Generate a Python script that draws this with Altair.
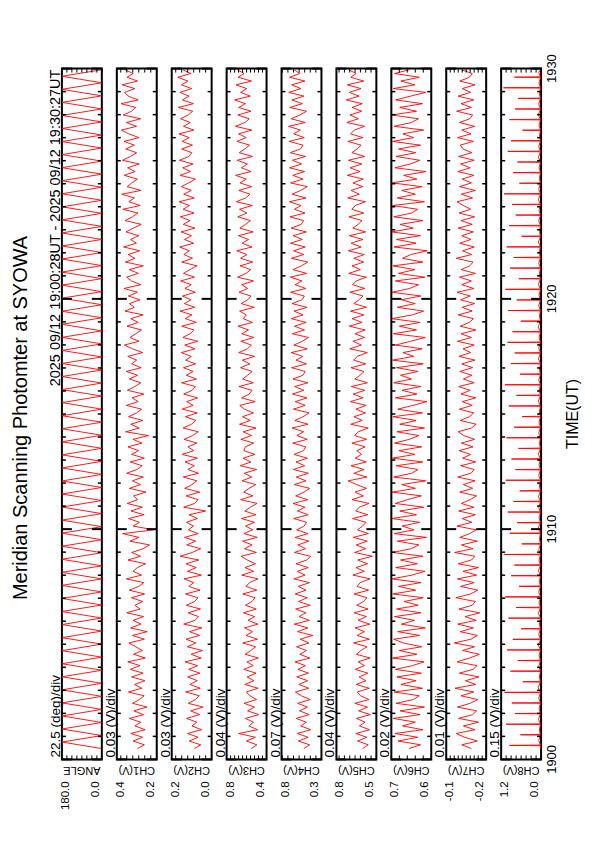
import altair as alt
import pandas as pd
import numpy as np

FONT = "Liberation Sans"
T0, T1 = 0.47, 29.95   # minutes after 19:00 (19:00:28UT - 19:30:27UT)

PANEL_NAMES = ["ANGLE", "CH1(V)", "CH2(V)", "CH3(V)", "CH4(V)", "CH5(V)", "CH6(V)", "CH7(V)", "CH8(V)"]
LO = [0.0, 0.2, 0.0, 0.4, 0.3, 0.5, 0.6, -0.2, 0.0]
HI = [180.0, 0.4, 0.2, 0.8, 0.8, 0.8, 0.7, -0.1, 1.2]
DIV = [22.5, 0.03, 0.03, 0.04, 0.07, 0.04, 0.02, 0.01, 0.15]
DIV_LABELS = ["22.5 (deg)/div", "0.03 (V)/div", "0.03 (V)/div", "0.04 (V)/div", "0.07 (V)/div",
              "0.04 (V)/div", "0.02 (V)/div", "0.01 (V)/div", "0.15 (V)/div"]
HI_LABELS = ["180.0", "0.4", "0.2", "0.8", "0.8", "0.8", "0.7", "-0.1", "1.2"]
LO_LABELS = ["0.0", "0.2", "0.0", "0.4", "0.3", "0.5", "0.6", "-0.2", "0.0"]
TIME_TICKS = [0, 10, 20, 30]
TIME_LABELS = ["1900", "1910", "1920", "1930"]
TITLE = "Meridian Scanning Photomter at SYOWA"
SUBTITLE = "2025 09/12 19:00:28UT - 2025 09/12 19:30:27UT"
XTITLE = "TIME(UT)"

ANGLE_TURNS = [
    0, 180, 0, 180, 0, 180, 0, 180, 0, 180, 0, 180, 0, 180, 0, 180,
    0, 180, 0, 180, 0, 180, 0, 180, 0, 180, 0, 180, 0, 180, 0, 180,
    0, 180, 0, 180, 0, 180, 0, 180, 0, 180, 0, 180, 0, 180, 0, 180,
    0, 180, 0, 180, 0, 180, 0, 180, 0, 180, 0, 180, 0, 180, 0, 180,
    0, 180, 0, 180, 0, 180, 0, 180, 0, 180, 0, 180, 0, 180, 0, 180,
    0, 180, 0, 180, 0, 180, 0, 180, 0, 180, 0, 180, 0, 180, 0, 180,
    0, 180, 0, 180, 0, 180, 0, 180, 0,
]

CH1 = [
    0.296, 0.262, 0.318, 0.271, 0.330, 0.258, 0.309, 0.280, 0.337, 0.266, 0.314, 0.249, 0.321, 0.287, 0.263, 0.342, 0.275, 0.311, 0.259, 0.326,
    0.268, 0.333, 0.284, 0.345, 0.257, 0.316, 0.272, 0.305, 0.339, 0.262, 0.322, 0.248, 0.331, 0.279, 0.318, 0.266, 0.350, 0.283, 0.309, 0.270,
    0.327, 0.261, 0.338, 0.290, 0.265, 0.352, 0.276, 0.319, 0.297, 0.255, 0.344, 0.281, 0.325, 0.268, 0.236, 0.334, 0.289, 0.371, 0.215, 0.318,
    0.287, 0.341, 0.263, 0.329, 0.272, 0.348, 0.295, 0.316, 0.254, 0.337, 0.281, 0.322, 0.267, 0.351, 0.299, 0.273, 0.333, 0.262, 0.326, 0.291,
    0.344, 0.274, 0.319, 0.241, 0.356, 0.288, 0.330, 0.269, 0.341, 0.301, 0.276, 0.352, 0.293, 0.323, 0.265, 0.347, 0.310, 0.280, 0.337, 0.296,
    0.353, 0.278, 0.326, 0.301, 0.345, 0.270, 0.321, 0.362, 0.289, 0.334, 0.305, 0.276, 0.349, 0.293, 0.330, 0.268, 0.359, 0.312, 0.337, 0.284,
    0.342, 0.296, 0.364, 0.280, 0.327, 0.351, 0.292, 0.338, 0.267, 0.357, 0.309, 0.343, 0.285, 0.366, 0.302, 0.331, 0.290, 0.354, 0.318, 0.277,
    0.359, 0.321, 0.294, 0.370, 0.283, 0.340, 0.312, 0.375, 0.279, 0.348, 0.325, 0.297, 0.363, 0.308, 0.346, 0.288, 0.372, 0.331, 0.301, 0.355,
    0.312, 0.364, 0.289, 0.340, 0.377, 0.301, 0.352, 0.281, 0.368, 0.326, 0.305, 0.379, 0.293, 0.343, 0.361, 0.310, 0.373, 0.296, 0.349, 0.318, 0.360,
]
CH2 = [
    0.087, 0.055, 0.112, 0.068, 0.121, 0.050, 0.098, 0.074, 0.126, 0.060, 0.105, 0.043, 0.117, 0.081, 0.062, 0.130, 0.057, 0.109, 0.072, 0.120,
    0.059, 0.115, 0.070, 0.134, 0.052, 0.103, 0.046, 0.122, 0.079, 0.128, 0.061, 0.111, 0.049, 0.140, 0.083, 0.066, 0.118, 0.056, 0.127, 0.085,
    0.069, 0.131, 0.058, 0.114, 0.090, 0.138, 0.051, 0.121, 0.077, 0.129, 0.064, 0.158, 0.097, 0.055, 0.125, 0.080, 0.136, 0.067, 0.117, 0.091,
    0.126, 0.071, 0.113, 0.030, 0.140, 0.085, 0.068, 0.128, 0.060, 0.135, 0.098, 0.074, 0.142, 0.066, 0.119, 0.087, 0.133, 0.071, 0.148, 0.089,
    0.119, 0.074, 0.138, 0.095, 0.067, 0.143, 0.101, 0.079, 0.131, 0.072, 0.147, 0.093, 0.125, 0.070, 0.140, 0.098, 0.081, 0.151, 0.076, 0.127,
    0.093, 0.141, 0.080, 0.130, 0.102, 0.152, 0.083, 0.135, 0.069, 0.144, 0.108, 0.089, 0.150, 0.077, 0.132, 0.099, 0.158, 0.085, 0.137, 0.104,
    0.146, 0.082, 0.134, 0.103, 0.155, 0.086, 0.141, 0.109, 0.073, 0.150, 0.096, 0.139, 0.112, 0.160, 0.090, 0.136, 0.101, 0.153, 0.084, 0.142,
    0.108, 0.157, 0.088, 0.143, 0.111, 0.163, 0.087, 0.140, 0.102, 0.152, 0.115, 0.081, 0.158, 0.106, 0.145, 0.093, 0.161, 0.114, 0.099, 0.150,
    0.096, 0.148, 0.112, 0.164, 0.089, 0.141, 0.107, 0.156, 0.118, 0.095, 0.167, 0.091, 0.146, 0.113, 0.159, 0.100, 0.151, 0.119, 0.170, 0.104, 0.145,
]
CH3 = [
    0.553, 0.497, 0.601, 0.512, 0.680, 0.489, 0.578, 0.530, 0.612, 0.478, 0.590, 0.521, 0.625, 0.500, 0.567, 0.603, 0.484, 0.618, 0.526, 0.594,
    0.505, 0.628, 0.534, 0.597, 0.482, 0.614, 0.558, 0.509, 0.639, 0.491, 0.605, 0.540, 0.621, 0.487, 0.586, 0.519, 0.632, 0.503, 0.610, 0.547,
    0.515, 0.638, 0.498, 0.606, 0.571, 0.486, 0.649, 0.529, 0.617, 0.510, 0.593, 0.655, 0.502, 0.622, 0.545, 0.641, 0.493, 0.627, 0.538, 0.611,
    0.520, 0.652, 0.506, 0.618, 0.561, 0.495, 0.660, 0.537, 0.629, 0.575, 0.508, 0.646, 0.548, 0.624, 0.499, 0.664, 0.556, 0.635, 0.517, 0.628,
    0.612, 0.528, 0.657, 0.550, 0.636, 0.506, 0.671, 0.563, 0.641, 0.531, 0.622, 0.668, 0.514, 0.650, 0.573, 0.547, 0.677, 0.532, 0.639, 0.590,
    0.544, 0.661, 0.567, 0.643, 0.519, 0.679, 0.592, 0.553, 0.658, 0.527, 0.648, 0.581, 0.687, 0.541, 0.634, 0.602, 0.670, 0.523, 0.655, 0.588,
    0.556, 0.676, 0.590, 0.649, 0.530, 0.690, 0.604, 0.559, 0.665, 0.538, 0.660, 0.596, 0.698, 0.546, 0.645, 0.580, 0.683, 0.534, 0.668, 0.610,
    0.561, 0.688, 0.597, 0.671, 0.542, 0.702, 0.609, 0.566, 0.677, 0.549, 0.667, 0.603, 0.710, 0.555, 0.652, 0.592, 0.694, 0.540, 0.674, 0.617,
    0.569, 0.697, 0.604, 0.680, 0.548, 0.713, 0.615, 0.574, 0.688, 0.556, 0.679, 0.611, 0.721, 0.563, 0.660, 0.598, 0.706, 0.551, 0.685, 0.625, 0.693,
]
CH4 = [
    0.521, 0.448, 0.589, 0.467, 0.604, 0.433, 0.560, 0.490, 0.617, 0.452, 0.575, 0.476, 0.598, 0.440, 0.552, 0.626, 0.459, 0.583, 0.473, 0.609,
    0.462, 0.594, 0.501, 0.632, 0.445, 0.571, 0.487, 0.612, 0.456, 0.566, 0.410, 0.599, 0.470, 0.640, 0.451, 0.580, 0.495, 0.623, 0.441, 0.587,
    0.478, 0.629, 0.493, 0.591, 0.449, 0.646, 0.505, 0.603, 0.466, 0.619, 0.484, 0.437, 0.638, 0.500, 0.596, 0.458, 0.630, 0.470, 0.611, 0.517,
    0.486, 0.648, 0.465, 0.600, 0.508, 0.655, 0.472, 0.622, 0.519, 0.447, 0.641, 0.494, 0.615, 0.463, 0.652, 0.510, 0.618, 0.476, 0.644, 0.525,
    0.497, 0.660, 0.479, 0.608, 0.523, 0.667, 0.468, 0.633, 0.530, 0.455, 0.651, 0.503, 0.627, 0.481, 0.663, 0.520, 0.635, 0.470, 0.656, 0.532,
    0.505, 0.674, 0.488, 0.619, 0.534, 0.680, 0.477, 0.645, 0.540, 0.461, 0.666, 0.512, 0.637, 0.492, 0.677, 0.531, 0.643, 0.480, 0.669, 0.544,
    0.514, 0.686, 0.497, 0.629, 0.545, 0.690, 0.486, 0.657, 0.551, 0.470, 0.676, 0.521, 0.648, 0.503, 0.688, 0.540, 0.654, 0.489, 0.680, 0.553,
    0.523, 0.695, 0.506, 0.638, 0.556, 0.701, 0.494, 0.668, 0.560, 0.478, 0.687, 0.530, 0.659, 0.511, 0.699, 0.549, 0.663, 0.498, 0.691, 0.562,
    0.531, 0.705, 0.515, 0.647, 0.564, 0.712, 0.503, 0.678, 0.569, 0.487, 0.697, 0.539, 0.670, 0.520, 0.709, 0.557, 0.673, 0.507, 0.700, 0.571, 0.640,
]
CH5 = [
    0.603, 0.561, 0.641, 0.572, 0.655, 0.550, 0.627, 0.585, 0.649, 0.545, 0.633, 0.567, 0.662, 0.556, 0.619, 0.643, 0.553, 0.652, 0.578, 0.630,
    0.564, 0.658, 0.589, 0.637, 0.547, 0.650, 0.616, 0.570, 0.671, 0.552, 0.644, 0.590, 0.660, 0.549, 0.638, 0.575, 0.667, 0.562, 0.648, 0.596,
    0.571, 0.668, 0.558, 0.645, 0.622, 0.548, 0.676, 0.591, 0.653, 0.566, 0.640, 0.530, 0.664, 0.580, 0.651, 0.568, 0.674, 0.560, 0.642, 0.603,
    0.578, 0.679, 0.565, 0.655, 0.629, 0.555, 0.683, 0.598, 0.661, 0.574, 0.648, 0.712, 0.570, 0.669, 0.592, 0.690, 0.576, 0.659, 0.611, 0.647,
    0.585, 0.684, 0.573, 0.663, 0.637, 0.561, 0.692, 0.606, 0.668, 0.581, 0.654, 0.577, 0.696, 0.600, 0.675, 0.586, 0.688, 0.567, 0.662, 0.622,
    0.593, 0.691, 0.580, 0.670, 0.644, 0.568, 0.700, 0.613, 0.675, 0.588, 0.661, 0.584, 0.703, 0.607, 0.682, 0.594, 0.695, 0.574, 0.669, 0.630,
    0.600, 0.699, 0.587, 0.678, 0.651, 0.575, 0.707, 0.620, 0.683, 0.595, 0.669, 0.591, 0.711, 0.614, 0.690, 0.601, 0.703, 0.581, 0.677, 0.637,
    0.608, 0.706, 0.594, 0.685, 0.658, 0.582, 0.715, 0.628, 0.690, 0.603, 0.676, 0.598, 0.718, 0.622, 0.697, 0.609, 0.710, 0.588, 0.684, 0.645,
    0.615, 0.714, 0.601, 0.693, 0.665, 0.589, 0.722, 0.635, 0.698, 0.610, 0.683, 0.606, 0.726, 0.629, 0.704, 0.616, 0.718, 0.595, 0.692, 0.652, 0.708,
]
CH6 = [
    0.656, 0.627, 0.683, 0.634, 0.691, 0.621, 0.672, 0.640, 0.695, 0.628, 0.678, 0.617, 0.688, 0.645, 0.630, 0.693, 0.622, 0.676, 0.638, 0.686,
    0.625, 0.690, 0.647, 0.618, 0.697, 0.636, 0.680, 0.624, 0.670, 0.694, 0.629, 0.684, 0.615, 0.675, 0.642, 0.692, 0.626, 0.687, 0.633, 0.668,
    0.620, 0.696, 0.639, 0.682, 0.626, 0.699, 0.648, 0.616, 0.689, 0.635, 0.677, 0.621, 0.697, 0.650, 0.631, 0.685, 0.612, 0.693, 0.643, 0.673,
    0.629, 0.699, 0.637, 0.679, 0.619, 0.690, 0.660, 0.625, 0.698, 0.640, 0.674, 0.614, 0.694, 0.649, 0.633, 0.688, 0.621, 0.697, 0.641, 0.681,
    0.624, 0.692, 0.655, 0.631, 0.686, 0.617, 0.679, 0.638, 0.696, 0.622, 0.684, 0.646, 0.611, 0.690, 0.636, 0.673, 0.626, 0.694, 0.650, 0.677,
    0.633, 0.687, 0.620, 0.697, 0.644, 0.671, 0.623, 0.689, 0.652, 0.615, 0.695, 0.637, 0.680, 0.628, 0.699, 0.647, 0.619, 0.685, 0.640, 0.675,
    0.626, 0.698, 0.654, 0.632, 0.690, 0.616, 0.682, 0.641, 0.696, 0.621, 0.672, 0.651, 0.610, 0.693, 0.638, 0.687, 0.627, 0.699, 0.645, 0.678,
    0.621, 0.694, 0.649, 0.634, 0.697, 0.617, 0.685, 0.640, 0.674, 0.623, 0.699, 0.636, 0.669, 0.613, 0.691, 0.653, 0.629, 0.688, 0.639, 0.682,
    0.627, 0.697, 0.644, 0.671, 0.619, 0.693, 0.650, 0.632, 0.699, 0.637, 0.679, 0.622, 0.689, 0.652, 0.614, 0.695, 0.641, 0.676, 0.630, 0.692, 0.655,
]
CH7 = [
    -0.163, -0.139, -0.178, -0.146, -0.125, -0.172, -0.143, -0.181, -0.131, -0.166, -0.176, -0.128, -0.160, -0.179, -0.137, -0.169, -0.122, -0.174, -0.148, -0.182,
    -0.133, -0.167, -0.177, -0.127, -0.158, -0.183, -0.141, -0.171, -0.120, -0.162, -0.178, -0.135, -0.168, -0.129, -0.175, -0.147, -0.184, -0.132, -0.165, -0.173,
    -0.124, -0.161, -0.179, -0.136, -0.170, -0.128, -0.176, -0.142, -0.181, -0.130, -0.163, -0.172, -0.121, -0.167, -0.138, -0.178, -0.134, -0.159, -0.175, -0.127,
    -0.164, -0.140, -0.173, -0.131, -0.169, -0.138, -0.160, -0.176, -0.134, -0.166, -0.143, -0.172, -0.129, -0.162, -0.170, -0.136, -0.174, -0.141, -0.161, -0.132,
    -0.167, -0.138, -0.171, -0.144, -0.130, -0.163, -0.175, -0.135, -0.158, -0.169, -0.133, -0.165, -0.140, -0.174, -0.137, -0.160, -0.131, -0.170, -0.143, -0.164,
    -0.134, -0.166, -0.139, -0.172, -0.132, -0.161, -0.142, -0.170, -0.128, -0.163, -0.137, -0.174, -0.135, -0.158, -0.168, -0.130, -0.165, -0.140, -0.171, -0.136,
    -0.160, -0.127, -0.169, -0.139, -0.163, -0.133, -0.173, -0.137, -0.159, -0.167, -0.125, -0.164, -0.141, -0.170, -0.134, -0.162, -0.139, -0.168, -0.130, -0.165,
    -0.137, -0.171, -0.132, -0.161, -0.143, -0.127, -0.166, -0.138, -0.173, -0.133, -0.163, -0.140, -0.169, -0.129, -0.160, -0.136, -0.170, -0.131, -0.164, -0.142,
    -0.135, -0.168, -0.128, -0.162, -0.139, -0.171, -0.133, -0.159, -0.166, -0.126, -0.163, -0.137, -0.169, -0.130, -0.161, -0.140, -0.172, -0.134, -0.158, -0.165, -0.138,
]
CH8_PEAKS = [
    0.95, 0.62, 1.05, 0.78, 0.88, 1.10, 0.55, 0.92, 0.70, 1.02, 0.85, 0.60, 0.98, 0.75, 1.08, 0.66,
    0.90, 0.80, 1.12, 0.58, 0.94, 0.72, 1.00, 0.83, 0.64, 1.06, 0.77, 0.89, 0.68, 1.04, 0.81, 0.57,
    0.97, 0.74, 1.09, 0.63, 0.91, 0.79, 1.01, 0.86, 0.61, 0.99, 0.73, 1.07, 0.67, 0.93, 0.82, 1.03,
    0.59, 0.96, 0.76, 0.87, 1.11, 0.65, 0.84, 0.71, 1.00, 0.90, 0.56, 0.95, 0.78, 0.69, 1.13, 0.80,
]
CH8_BUMPS = [
    0.07, 0.05, 0.08, 0.06, 0.07, 0.09, 0.05, 0.07, 0.06, 0.08, 0.07, 0.05, 0.08, 0.06, 0.07, 0.05,
    0.08, 0.06, 0.07, 0.05, 0.09, 0.06, 0.07, 0.08, 0.05, 0.07, 0.06, 0.08, 0.05, 0.07, 0.06, 0.05,
    0.08, 0.06, 0.07, 0.05, 0.08, 0.07, 0.06, 0.09, 0.05, 0.07, 0.06, 0.08, 0.05, 0.07, 0.06, 0.08,
    0.05, 0.07, 0.06, 0.08, 0.07, 0.05, 0.06, 0.08, 0.07, 0.05, 0.06, 0.08, 0.07, 0.05, 0.06, 0.07,
]
CH8_BASE = 0.02

W, H = 40, 692


def series_frame(values):
    t = np.linspace(T0, T1, len(values))
    return pd.DataFrame({"t": t, "v": values})


def ch8_frame():
    n = len(CH8_PEAKS)
    step = (T1 - T0) / n
    ts, vs = [T0], [CH8_BASE]
    for i in range(n):
        tc = T0 + (i + 0.3) * step
        ts += [tc - 0.015, tc, tc + 0.015, T0 + (i + 0.75) * step]
        vs += [CH8_BASE, CH8_PEAKS[i], CH8_BASE, CH8_BUMPS[i]]
    ts.append(T1)
    vs.append(CH8_BASE)
    return pd.DataFrame({"t": ts, "v": vs})


frames = [series_frame(ANGLE_TURNS), series_frame(CH1), series_frame(CH2), series_frame(CH3),
          series_frame(CH4), series_frame(CH5), series_frame(CH6), series_frame(CH7), ch8_frame()]

minutes = list(range(0, 31))
minor_df = pd.DataFrame({"m": [m for m in minutes if m % 10 != 0]})
major_df = pd.DataFrame({"m": [m for m in minutes if m % 10 == 0]})
one = alt.Data(values=[{}])


def text(txt, x, y, angle=0, align="center", baseline="middle", size=11):
    return alt.Chart(one).mark_text(
        text=txt, angle=angle, align=align, baseline=baseline, fontSize=size,
        font=FONT, color="black"
    ).encode(x=alt.value(x), y=alt.value(y))


def panel(i):
    xs = alt.Scale(domain=[LO[i], HI[i]], reverse=True, nice=False, zero=False)
    ys = alt.Scale(domain=[0, 30], nice=False, zero=False)
    line = alt.Chart(frames[i]).mark_line(color="#ff0000", strokeWidth=0.9, clip=True).encode(
        x=alt.X("v:Q", scale=xs, axis=None),
        y=alt.Y("t:Q", scale=ys, axis=None),
        order="t:Q",
    )
    layers = [line]
    for df, ln in ((minor_df, 4), (major_df, 10)):
        base = alt.Chart(df).mark_rule(color="black", strokeWidth=2 if ln > 5 else 1.5)
        layers.append(base.encode(y=alt.Y("m:Q", scale=ys, axis=None), x=alt.value(0), x2=alt.value(ln)))
        layers.append(base.encode(y=alt.Y("m:Q", scale=ys, axis=None), x=alt.value(W - ln), x2=alt.value(W)))
    nd = int(round((HI[i] - LO[i]) / DIV[i]))
    vt = pd.DataFrame({"v": [LO[i] + k * DIV[i] for k in range(nd + 1) if LO[i] + k * DIV[i] <= HI[i] + 1e-9]})
    vbase = alt.Chart(vt).mark_rule(color="black", strokeWidth=1)
    layers.append(vbase.encode(x=alt.X("v:Q", scale=xs, axis=None), y=alt.value(0), y2=alt.value(4)))
    layers.append(vbase.encode(x=alt.X("v:Q", scale=xs, axis=None), y=alt.value(H - 4), y2=alt.value(H)))
    # labels
    layers.append(text(DIV_LABELS[i], -6, H - 2, angle=270, align="left", size=13.5))
    layers.append(text(PANEL_NAMES[i], W / 2, H + 11, angle=180, size=11))
    layers.append(text(HI_LABELS[i], 4, H + 22, angle=270, align="right", size=11.5))
    layers.append(text(LO_LABELS[i], 34, H + 22, angle=270, align="right", size=11.5))
    if i == 0:
        layers.append(text(TITLE, -41, 350, angle=270, size=20))
        layers.append(text(SUBTITLE, -6, 1, angle=270, align="right", size=14.5))
    if i == len(PANEL_NAMES) - 1:
        tl = pd.DataFrame({"t": TIME_TICKS, "lab": TIME_LABELS})
        layers.append(alt.Chart(tl).mark_text(angle=270, align="center", baseline="middle",
                                              fontSize=13, font=FONT, color="black").encode(
            y=alt.Y("t:Q", scale=ys, axis=None), x=alt.value(51), text="lab:N"))
        layers.append(text(XTITLE, 72, 346, angle=270, size=16))
    return alt.layer(*layers).properties(width=W, height=H)


chart = alt.hconcat(*[panel(i) for i in range(len(PANEL_NAMES))], spacing=15, bounds="flush").configure_view(
    stroke="black", strokeWidth=2
).properties(padding={"left": 2, "top": 44, "right": 5, "bottom": 5}, background="white")

chart.save("out.html", embed_options={"renderer": "svg", "actions": False})
